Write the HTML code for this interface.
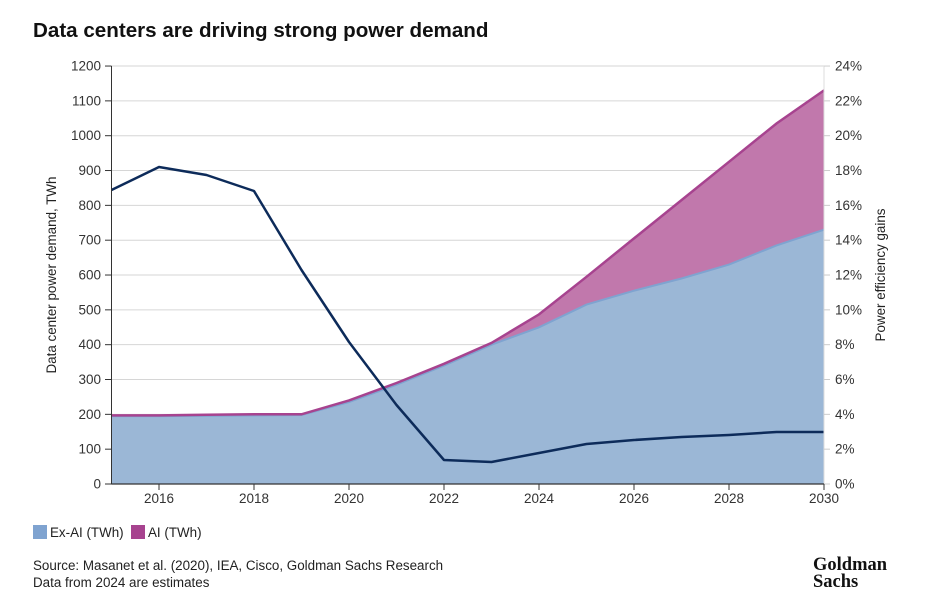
<!DOCTYPE html>
<html><head><meta charset="utf-8"><style>
body{margin:0;background:#fff;}
svg{display:block;font-family:"Liberation Sans",sans-serif;}
</style></head><body>
<svg id="s" width="927" height="615" viewBox="0 0 927 615" xmlns="http://www.w3.org/2000/svg">
<text x="33" y="37" font-size="20.6" font-weight="bold" fill="#111">Data centers are driving strong power demand</text>
<g id="grid"></g>
<path id="exai" fill="#9bb7d6" stroke="none"/>
<path id="ai" fill="#c178ac" stroke="none"/>
<path id="exline" fill="none" stroke="#7fa3d0" stroke-width="2"/>
<path id="ailine" fill="none" stroke="#a7438f" stroke-width="2.5"/>
<path id="eff" fill="none" stroke="#0d2b5a" stroke-width="2.5" stroke-linejoin="round"/>
<line x1="111.5" y1="66" x2="111.5" y2="484" stroke="#333" stroke-width="1"/>
<line x1="824" y1="66" x2="824" y2="484" stroke="#ddd" stroke-width="1"/>
<line x1="111.5" y1="484" x2="824" y2="484" stroke="#333" stroke-width="1.2"/>
<g id="ticks" font-size="13.5" fill="#333"></g>
<text transform="translate(56,275) rotate(-90)" text-anchor="middle" font-size="13.4" fill="#222">Data center power demand, TWh</text>
<text transform="translate(885,275) rotate(-90)" text-anchor="middle" font-size="13.4" fill="#222">Power efficiency gains</text>
<rect x="33" y="525" width="14" height="14" fill="#7fa3d0"/>
<text x="50" y="537" font-size="13.4" fill="#222">Ex-AI (TWh)</text>
<rect x="131" y="525" width="14" height="14" fill="#a7438f"/>
<text x="148" y="537" font-size="13.4" fill="#222">AI (TWh)</text>
<text x="33" y="570" font-size="13.4" fill="#222">Source: Masanet et al. (2020), IEA, Cisco, Goldman Sachs Research</text>
<text x="33" y="587" font-size="13.4" fill="#222">Data from 2024 are estimates</text>
<text x="813" y="570" font-size="18.5" font-weight="bold" font-family="Liberation Serif,serif" fill="#111">Goldman</text>
<text x="813" y="587" font-size="18.5" font-weight="bold" font-family="Liberation Serif,serif" fill="#111">Sachs</text>
</svg>
<script>
const X=y=>111.5+(y-2015)*47.5, Y=v=>484-v*0.3483;
const ex=[195,195,196,197,198,235,285,340,400,450,515,555,590,630,685,730];
const tot=[197,197,199,200,200,240,290,345,405,487,595,705,815,925,1035,1130];
const ef=[190,167,175,191,270,342,405,460,462,453,444,440,437,435,432,432];
const pts=a=>a.map((v,i)=>X(2015+i).toFixed(1)+","+Y(v).toFixed(1));
const ns="http://www.w3.org/2000/svg";
const ep=pts(ex), tp=pts(tot);
document.getElementById('exai').setAttribute('d',"M"+X(2015)+",484 L"+ep.join(" L")+" L"+X(2030)+",484Z");
document.getElementById('ai').setAttribute('d',"M"+tp.join(" L")+" L"+ep.slice().reverse().join(" L")+"Z");
document.getElementById('exline').setAttribute('d',"M"+ep.join(" L"));
document.getElementById('ailine').setAttribute('d',"M"+tp.join(" L"));
document.getElementById('eff').setAttribute('d',"M"+ef.map((v,i)=>X(2015+i).toFixed(1)+","+v).join(" L"));
const g=document.getElementById('grid'), t=document.getElementById('ticks');
function el(p,tag,at,txt){const e=document.createElementNS(ns,tag);for(const k in at)e.setAttribute(k,at[k]);if(txt!=null)e.textContent=txt;p.appendChild(e);}
for(let v=0;v<=1200;v+=100){const y=Y(v);
 if(v>0)el(g,'line',{x1:111.5,x2:824,y1:y,y2:y,stroke:'#d6d6d6','stroke-width':1});
 el(t,'line',{x1:105,x2:111.5,y1:y,y2:y,stroke:'#333'});
 el(t,'text',{x:101,y:y+4.5,'text-anchor':'end'},v);
 el(t,'line',{x1:824,x2:830,y1:y,y2:y,stroke:'#ccc'});
}
for(let p=0;p<=24;p+=2){const y=484-p*17.42;el(t,'text',{x:835,y:y+4.5},p+"%");}
for(let yr=2016;yr<=2030;yr+=2){const x=X(yr);el(t,'line',{x1:x,x2:x,y1:484,y2:490,stroke:'#333'});el(t,'text',{x:x,y:503,'text-anchor':'middle'},yr);}
</script>
</body></html>
